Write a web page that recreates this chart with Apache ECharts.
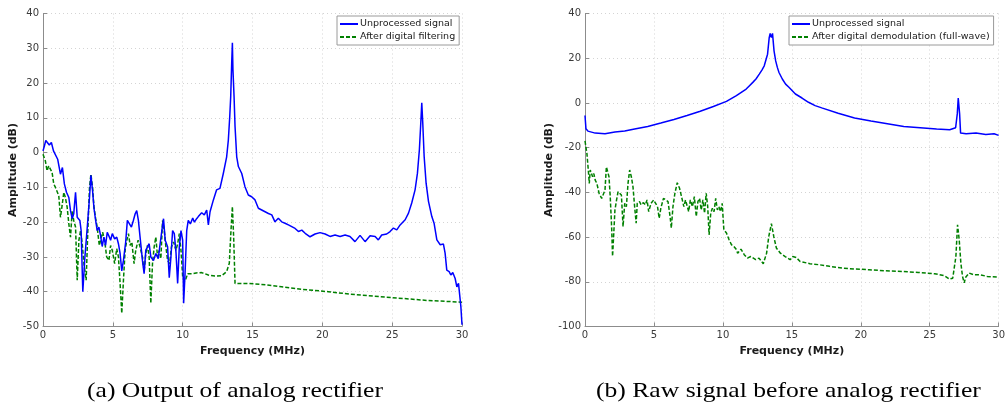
<!DOCTYPE html>
<html>
<head>
<meta charset="utf-8">
<script src="https://cdn.jsdelivr.net/npm/echarts@6/dist/echarts.min.js"></script>
<style>
  html, body { margin: 0; padding: 0; background: #fff; }
  #chart { width: 1008px; height: 405px; }
</style>
</head>
<body>
<div id="chart"></div>
<script>
// Spectra, frequency in MHz, amplitude in dB: [frequency, amplitude]

// (a) output of the analog rectifier
const rectUnprocessed = [
  [0,0.5],[0.1,1.9],[0.2,3.5],[0.3,3.3],[0.45,2.2],[0.6,2.9],[0.75,0.5],[0.89,1],[1.05,-1.9],[1.25,-6.2],
  [1.39,-4.3],[1.53,-9],[1.68,-11.4],[1.85,-12.9],[1.97,-16.7],[2.09,-19],[2.2,-17.6],[2.33,-11.4],[2.45,-18.6],[2.64,-19.5],
  [2.73,-22.4],[2.85,-40],[3.0,-30],[3.17,-21.4],[3.33,-12.9],[3.43,-6.5],[3.55,-11],[3.65,-16],[3.77,-19.5],[3.88,-22.4],
  [4.0,-21.4],[4.12,-23.8],[4.24,-27],[4.36,-24.3],[4.48,-26.7],[4.6,-22.9],[4.72,-24],[4.84,-25.2],[4.96,-23.3],[5.13,-24.8],
  [5.28,-24.3],[5.4,-26.2],[5.52,-29],[5.64,-34],[5.76,-31],[5.92,-25.7],[6.04,-19.5],[6.16,-19.5],[6.33,-21.4],[6.47,-19.5],
  [6.6,-17.6],[6.71,-16.7],[6.83,-19.5],[6.95,-24.3],[7.12,-31],[7.24,-34.8],[7.36,-28.1],[7.48,-27.1],[7.6,-26.2],[7.72,-30],
  [7.91,-31],[8.08,-29],[8.25,-30.5],[8.39,-30],[8.51,-22.4],[8.63,-19],[8.75,-25.2],[8.92,-27.1],[9.04,-36],[9.16,-30],
  [9.28,-22.4],[9.4,-23.3],[9.52,-28.6],[9.64,-37.6],[9.76,-27.1],[9.88,-22.4],[10.0,-25.2],[10.07,-43.3],[10.17,-34.8],[10.29,-22.4],
  [10.4,-19.5],[10.55,-20.5],[10.72,-18.8],[10.84,-20],[11.0,-19],[11.12,-18.4],[11.36,-17.3],[11.55,-17.9],[11.72,-16.5],[11.84,-20.8],
  [11.96,-17],[12.2,-13.6],[12.43,-10.7],[12.67,-10.3],[12.91,-6],[13.15,-1.2],[13.27,3.6],[13.37,10.3],[13.44,16.1],[13.51,25.7],
  [13.56,31.6],[13.6,23.8],[13.68,16.1],[13.75,7.5],[13.87,-1.2],[13.99,-4],[14.23,-6],[14.46,-9.8],[14.7,-12.2],[14.94,-12.7],
  [15.18,-13.6],[15.42,-16],[15.66,-16.5],[15.9,-17],[16.14,-17.5],[16.38,-17.9],[16.61,-19.9],[16.85,-18.9],[17.09,-19.9],[17.33,-20.3],
  [17.57,-20.8],[17.81,-21.3],[18.05,-21.8],[18.29,-22.7],[18.53,-22.3],[18.77,-23.2],[19.12,-24.2],[19.48,-23.4],[19.84,-23],[20.2,-23.4],
  [20.55,-24.1],[20.91,-23.7],[21.27,-24.1],[21.63,-23.7],[21.98,-24.1],[22.34,-25.6],[22.7,-23.8],[23.06,-25.6],[23.42,-23.9],[23.78,-24.1],
  [24.01,-25.1],[24.25,-23.7],[24.61,-23.4],[24.85,-22.7],[25.09,-21.7],[25.33,-22.2],[25.57,-20.8],[25.93,-19.3],[26.17,-17.4],[26.4,-14.5],
  [26.64,-10.7],[26.81,-5.9],[26.95,0.9],[27.05,8.6],[27.12,14.3],[27.19,8.6],[27.29,-1.1],[27.43,-8.8],[27.6,-14],[27.84,-18.4],
  [28.0,-20.3],[28.2,-25.1],[28.44,-26.5],[28.67,-26.3],[28.79,-28.9],[28.91,-33.8],[29.08,-34.2],[29.2,-35.2],[29.34,-34.5],[29.51,-36.2],
  [29.63,-38.6],[29.75,-37.6],[29.92,-44.3],[30.0,-49.5]
];

const rectFiltered = [
  [0,-0.5],[0.17,-2.4],[0.29,-5.2],[0.41,-3.8],[0.53,-3.3],[0.65,-5.7],[0.77,-9],[0.89,-10],[1.0,-10.5],[1.13,-12.4],
  [1.25,-18.6],[1.37,-15.2],[1.49,-11.4],[1.6,-12.9],[1.73,-15.7],[1.85,-20.5],[1.97,-24.3],[2.09,-16.7],[2.2,-19.5],[2.33,-21.4],
  [2.45,-36.7],[2.57,-25.2],[2.69,-22.4],[2.81,-26.2],[2.93,-31.9],[3.09,-36.7],[3.21,-22.4],[3.33,-10],[3.43,-6.2],[3.55,-10],
  [3.65,-15.7],[3.77,-19],[3.88,-21.4],[4.03,-26.7],[4.12,-26.2],[4.27,-22.9],[4.41,-25.2],[4.56,-30],[4.72,-31],[4.84,-26.7],
  [4.96,-28.1],[5.13,-31.9],[5.28,-27.6],[5.4,-30],[5.52,-37.6],[5.64,-46.2],[5.76,-36.7],[5.88,-28.1],[6.0,-25.2],[6.12,-23.3],
  [6.24,-26.7],[6.36,-25.7],[6.52,-31.9],[6.64,-28.1],[6.81,-25.2],[6.95,-27.1],[7.12,-30],[7.24,-34.3],[7.36,-29],[7.48,-26.7],
  [7.6,-30],[7.72,-43.3],[7.84,-31.9],[7.96,-27.1],[8.08,-24.3],[8.2,-30],[8.32,-28.1],[8.44,-30.5],[8.56,-19.5],[8.68,-22.4],
  [8.8,-27.1],[8.92,-31],[9.06,-31.9],[9.2,-27.1],[9.35,-25.7],[9.52,-28.1],[9.64,-26.2],[9.76,-23.3],[9.88,-28.1],[10.0,-35.7],
  [10.12,-37.1],[10.24,-36.2],[10.36,-34.8],[10.5,-34.3],[10.7,-34.8],[10.96,-34.6],[11.36,-34.5],[11.84,-35.2],[12.31,-35.5],[12.79,-35.4],
  [13.15,-34.2],[13.34,-31.8],[13.46,-22.3],[13.56,-15.5],[13.65,-24.2],[13.75,-37.6],[14.7,-37.6],[15.66,-37.9],[17.09,-38.6],[18.53,-39.3],
  [20.44,-40],[22,-40.7],[25.33,-41.8],[27.5,-42.5],[30,-43]
];

// (b) raw signal ahead of the analog rectifier
const rawUnprocessed = [
  [0,-5.6],[0.07,-11.6],[0.21,-12.6],[0.74,-13.5],[1.45,-13.8],[2.17,-13],[2.88,-12.6],[3.6,-11.7],[4.55,-10.5],[5.5,-9],
  [6.45,-7.4],[7.4,-5.6],[8.36,-3.7],[9.31,-1.6],[10.26,0.7],[10.98,3.3],[11.69,6.2],[11.93,7.7],[12.17,9.2],[12.4,10.7],
  [12.64,12.9],[12.83,14.7],[13.0,16.6],[13.24,21.8],[13.36,29.2],[13.43,31.1],[13.52,29.2],[13.6,31.1],[13.71,23.3],[13.83,18.8],
  [13.95,15.9],[14.07,13.6],[14.31,10.7],[14.55,8.4],[14.79,7],[15.26,4],[15.74,2.2],[16.21,0.3],[16.69,-1.2],[17.17,-2.2],
  [18.36,-4.6],[19.55,-6.7],[20.74,-8.1],[21.93,-9.3],[23.12,-10.5],[24.31,-11.1],[25.5,-11.7],[26.45,-12],[26.88,-11.1],[27.0,-4.9],
  [27.07,2.2],[27.17,-4.9],[27.24,-13.5],[27.64,-13.8],[28.36,-13.5],[29.07,-14.1],[29.67,-13.8],[30.0,-14.5]
];

const rawDemodulated = [
  [0,-17],[0.14,-22.7],[0.26,-31.6],[0.31,-36],[0.38,-30],[0.45,-29.3],[0.55,-33],[0.64,-31.6],[0.74,-34.5],[0.86,-36],
  [1.02,-40.4],[1.21,-42.7],[1.33,-43.4],[1.45,-39],[1.55,-28.6],[1.64,-27.9],[1.74,-33],[1.83,-41.9],[1.93,-55.3],[2.0,-68.6],
  [2.1,-56.7],[2.17,-47.9],[2.29,-43.4],[2.4,-39.7],[2.52,-39],[2.64,-41.2],[2.76,-55.3],[2.88,-44.9],[3.0,-46.4],[3.12,-36],
  [3.24,-30],[3.36,-33],[3.48,-37.5],[3.6,-46.4],[3.71,-53.8],[3.79,-44.9],[3.95,-44.1],[4.07,-45.6],[4.24,-44.6],[4.38,-45.6],
  [4.5,-43.4],[4.62,-48.6],[4.79,-44.9],[4.98,-43.4],[5.12,-42.7],[5.26,-46.4],[5.38,-51.6],[5.5,-47.1],[5.69,-42.7],[5.86,-43.4],
  [6.02,-44.1],[6.17,-50.8],[6.26,-56],[6.38,-46.4],[6.52,-40.4],[6.69,-35.7],[6.86,-38.2],[7.0,-41.9],[7.17,-46.4],[7.29,-43.4],
  [7.4,-44.1],[7.52,-48.6],[7.64,-43.4],[7.79,-46.4],[7.93,-41.9],[8.07,-50.8],[8.19,-44.1],[8.31,-42.7],[8.43,-47.9],[8.55,-43.4],
  [8.67,-49.3],[8.79,-40.4],[8.9,-46.4],[9.0,-59],[9.12,-49.3],[9.24,-47.1],[9.36,-48.6],[9.48,-42.7],[9.6,-47.9],[9.71,-46.4],
  [9.83,-48.6],[9.95,-44.9],[10.07,-56.7],[10.26,-58.2],[10.45,-61.2],[10.62,-63.4],[10.79,-64.1],[10.98,-65.6],[11.07,-67.2],[11.31,-65.4],
  [11.55,-67.9],[11.78,-69.4],[12.02,-68.7],[12.38,-70.1],[12.62,-69.4],[12.93,-71.9],[13.17,-67.2],[13.33,-59.7],[13.52,-54],[13.69,-59.7],
  [13.88,-64.9],[14.17,-67.2],[14.52,-68.7],[14.88,-70.1],[15.07,-68.7],[15.31,-69.1],[15.6,-70.9],[16.31,-71.9],[17.02,-72.4],[17.74,-73.1],
  [18.69,-73.9],[19.64,-74.3],[20.6,-74.6],[21.79,-75.1],[22.98,-75.4],[24.17,-75.8],[25.36,-76.4],[26.07,-77.3],[26.43,-78.8],[26.67,-78.4],
  [26.79,-79.1],[26.9,-68.7],[27.02,-54.5],[27.14,-61.2],[27.26,-71.6],[27.38,-77.6],[27.5,-80.5],[27.62,-77.9],[27.86,-76.1],[28.21,-76.9],
  [28.69,-76.9],[29.17,-77.6],[30,-77.9]
];

// Axis ranges and labels
const freqRange = { min: 0, max: 30, step: 5 };
const ampRangeA = { min: -50, max: 40, step: 10 };
const ampRangeB = { min: -100, max: 40, step: 20 };
const freqTitle = 'Frequency (MHz)';
const ampTitle = 'Amplitude (dB)';
const seriesNames = ['Unprocessed signal', 'After digital filtering', 'After digital demodulation (full-wave)'];
const captions = ['(a) Output of analog rectifier', '(b) Raw signal before analog rectifier'];

const sans = 'DejaVu Sans';
const gridLine = { show: true, lineStyle: { color: '#d4d4d4', type: [1, 3], width: 1 } };
const axisLine = { show: true, onZero: false, lineStyle: { color: '#8c8c8c', width: 1 } };
const tick = { show: true, inside: true, length: 4, lineStyle: { color: '#8c8c8c' } };
const tickLabel = { color: '#3a3a3a', fontFamily: sans, fontSize: 10, margin: 4 };
const nameStyle = { color: '#1a1a1a', fontFamily: sans, fontSize: 11, fontWeight: 'bold' };

function xAxisFor(gridIndex) {
  return {
    type: 'value', gridIndex, min: freqRange.min, max: freqRange.max, interval: freqRange.step,
    name: freqTitle, nameLocation: 'middle', nameGap: 15, nameTextStyle: nameStyle,
    axisLine, axisTick: tick, axisLabel: tickLabel, splitLine: gridLine
  };
}
function yAxisFor(gridIndex, range, gap) {
  return {
    type: 'value', gridIndex, min: range.min, max: range.max, interval: range.step,
    name: ampTitle, nameLocation: 'middle', nameGap: gap, nameRotate: 90, nameTextStyle: nameStyle,
    axisLine, axisTick: tick, axisLabel: tickLabel, splitLine: gridLine
  };
}
function trace(name, data, idx, color, dashed) {
  return {
    name, type: 'line', xAxisIndex: idx, yAxisIndex: idx, data,
    showSymbol: false, symbol: 'none', animation: false,
    lineStyle: { color, width: 1.5, type: dashed ? [4, 2] : 'solid' },
    itemStyle: { color }
  };
}
function legendFor(names, left, top) {
  return {
    data: names.map(n => ({ name: n })), orient: 'vertical', left, top,
    itemWidth: 18, itemHeight: 8, itemGap: 3, padding: [3, 4, 3, 2],
    backgroundColor: '#fff', borderColor: '#9a9a9a', borderWidth: 1, borderRadius: 0,
    itemStyle: { color: 'rgba(0,0,0,0)', borderWidth: 0, opacity: 0 },
    textStyle: { fontFamily: sans, fontSize: 9.5, color: '#1a1a1a', padding: [0, 0, 0, -3] },
    selectedMode: false
  };
}
function caption(text, x) {
  return {
    type: 'text', x, y: 381, scaleX: 1.22,
    style: { text, font: '21px "Liberation Serif"', fill: '#000', textAlign: 'left', textVerticalAlign: 'top' }
  };
}

const chart = echarts.init(document.getElementById('chart'), null, { renderer: 'canvas' });
chart.setOption({
  backgroundColor: '#fff',
  animation: false,
  grid: [
    { left: 43, width: 419, top: 13.5, height: 313 },
    { left: 585, width: 420, top: 13.5, height: 313 }
  ],
  xAxis: [xAxisFor(0), xAxisFor(1)],
  yAxis: [yAxisFor(0, ampRangeA, 23), yAxisFor(1, ampRangeB, 29)],
  legend: [
    legendFor([seriesNames[0], seriesNames[1]], 337, 16),
    legendFor([seriesNames[0], seriesNames[2]], 789, 16)
  ],
  series: [
    trace(seriesNames[1], rectFiltered, 0, '#008000', true),
    trace(seriesNames[0], rectUnprocessed, 0, '#0000ff', false),
    trace(seriesNames[2], rawDemodulated, 1, '#008000', true),
    trace(seriesNames[0], rawUnprocessed, 1, '#0000ff', false)
  ],
  graphic: [caption(captions[0], 87), caption(captions[1], 596)]
});
</script>
</body>
</html>
